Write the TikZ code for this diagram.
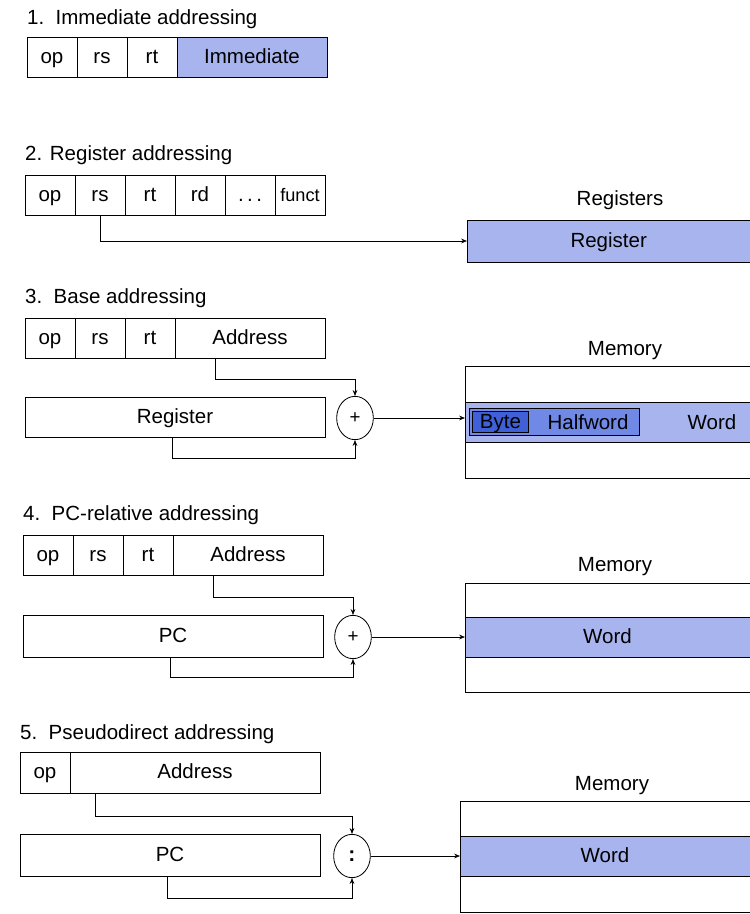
\documentclass[tikz,border=0pt]{standalone}
\usepackage{fontspec}
\setmainfont{Liberation Sans}
\usetikzlibrary{arrows.meta,positioning,shapes.geometric}
\definecolor{memblue}{RGB}{168,180,238}
\definecolor{halfblue}{RGB}{112,136,230}
\definecolor{byteblue}{RGB}{64,96,216}

\begin{document}
\begin{tikzpicture}[x=0.03cm, y=-0.03cm,
    fld/.style={draw, line width=0.8pt, outer sep=0pt, inner sep=0pt,
                minimum width=1.5cm, minimum height=1.2cm,
                text height=13.5pt, text depth=2.5pt,
                font=\fontsize{17.5}{20}\selectfont},
    ttl/.style={anchor=base west, inner sep=0pt,
                font=\fontsize{17.5}{20}\selectfont},
    lbl/.style={inner sep=0pt, text height=13.5pt, text depth=2.5pt,
                font=\fontsize{17.5}{20}\selectfont},
    band/.style={fill=memblue, outer sep=0pt, inner sep=0pt,
                 text height=13.5pt, text depth=2.5pt,
                 minimum width=8.55cm, minimum height=1.2cm, anchor=west},
    memframe/.style={outer sep=0pt, inner sep=0pt, anchor=north west,
                     minimum width=8.55cm},
    adder/.style={draw, ellipse, line width=0.7pt, inner sep=0pt,
                  minimum width=1.1cm, minimum height=1.3cm,
                  font=\fontsize{16}{20}\selectfont},
    arr/.style={-{Stealth[length=5pt,width=4pt]}, line width=0.6pt},
    edge/.style={line width=0.8pt}
  ]
  \useasboundingbox (0,0) rectangle (750,914);

  % 1. immediate
  \node[ttl] (t1) at (27,24) {1.\ \ Immediate addressing};
  \node[fld, anchor=north west] (op1) at (27,37) {op};
  \node[fld, right=0pt of op1] (rs1) {rs};
  \node[fld, right=0pt of rs1] (rt1) {rt};
  \node[fld, right=0pt of rt1, fill=memblue, minimum width=4.5cm] (im1) {Immediate};

  % 2. register
  \node[ttl] (t2) at (25,160) {2. Register addressing};
  \node[fld, anchor=north west] (op2) at (25,175) {op};
  \node[fld, right=0pt of op2] (rs2) {rs};
  \node[fld, right=0pt of rs2] (rt2) {rt};
  \node[fld, right=0pt of rt2] (rd2) {rd};
  \node[fld, right=0pt of rd2] (dt2) {.\,.\,.};
  \node[fld, right=0pt of dt2, font=\fontsize{15.5}{18}\selectfont] (fn2) {funct};
  \node[lbl] (rl2) at (620,199) {Registers};
  \node[band, anchor=north west, minimum width=8.5cm, minimum height=1.26cm,
        font=\fontsize{17.5}{20}\selectfont] (rg2) at (467,220) {Register};
  \draw[edge] (rg2.north east) -- (rg2.north west) -- (rg2.south west) -- (rg2.south east);
  \draw[arr] (rs2.south) |- (rg2.west);

  % 3. base
  \node[ttl] (t3) at (25,303) {3.\ \ Base addressing};
  \node[fld, anchor=north west] (op3) at (25,318) {op};
  \node[fld, right=0pt of op3] (rs3) {rs};
  \node[fld, right=0pt of rs3] (rt3) {rt};
  \node[fld, right=0pt of rt3, minimum width=4.5cm] (ad3) {Address};
  \node[fld, anchor=north west, minimum width=9cm] (rg3) at (25,397) {Register};
  \node[adder] (add3) at (355,418) {+};
  \node[lbl] (ml3) at (625,349) {Memory};
  \node[memframe, minimum height=3.36cm] (mem3) at (465,366) {};
  \node[band] (wd3) at (mem3.west) {};
  \draw[edge] (mem3.north east) -- (mem3.north west) -- (mem3.south west) -- (mem3.south east);
  \draw[edge] (wd3.north west) -- (wd3.north east) (wd3.south west) -- (wd3.south east);
  \node[draw, fill=halfblue, line width=0.8pt, minimum width=5.1cm, minimum height=0.8cm,
        inner sep=0pt, anchor=west] (hw3) at ([xshift=0.12cm]wd3.west) {};
  \node[draw, fill=byteblue, line width=0.8pt, minimum width=1.7cm, minimum height=0.62cm,
        anchor=west, lbl] (by3) at ([xshift=0.08cm]hw3.west) {Byte};
  \node[lbl] (hl3) at (588,423) {Halfword};
  \node[lbl] (wl3) at (712,423) {Word};
  \draw[arr] ([xshift=-1.05cm]ad3.south) -- ++(0,21) -| (add3.north);
  \draw[arr] ([xshift=-0.09cm]rg3.south) -- ++(0,21) -| (add3.south);
  \draw[arr] (add3.east) -- (add3.east -| wd3.west);

  % 4. pc-relative
  \node[ttl] (t4) at (23,520) {4.\ \ PC-relative addressing};
  \node[fld, anchor=north west] (op4) at (23,535) {op};
  \node[fld, right=0pt of op4] (rs4) {rs};
  \node[fld, right=0pt of rs4] (rt4) {rt};
  \node[fld, right=0pt of rt4, minimum width=4.5cm] (ad4) {Address};
  \node[fld, anchor=north west, minimum width=9cm, minimum height=1.26cm] (pc4) at (23,615) {PC};
  \node[adder] (add4) at (353,637) {+};
  \node[lbl] (ml4) at (615,565) {Memory};
  \node[memframe, minimum height=3.27cm] (mem4) at (465,583) {};
  \node[band, font=\fontsize{17.5}{20}\selectfont] (wd4) at (mem4.west) {Word};
  \draw[edge] (mem4.north east) -- (mem4.north west) -- (mem4.south west) -- (mem4.south east);
  \draw[edge] (wd4.north west) -- (wd4.north east) (wd4.south west) -- (wd4.south east);
  \draw[arr] ([xshift=-1.05cm]ad4.south) -- ++(0,22) -| (add4.north);
  \draw[arr] ([xshift=-0.09cm]pc4.south) -- ++(0,20) -| (add4.south);
  \draw[arr] (add4.east) -- (add4.east -| wd4.west);

  % 5. pseudodirect
  \node[ttl] (t5) at (20,739) {5.\ \ Pseudodirect addressing};
  \node[fld, anchor=north west, minimum height=1.23cm] (op5) at (20,752) {op};
  \node[fld, right=0pt of op5, minimum width=7.5cm, minimum height=1.23cm] (ad5) {Address};
  \node[fld, anchor=north west, minimum width=9cm, minimum height=1.26cm] (pc5) at (20,834) {PC};
  \node[adder, font=\bfseries\fontsize{18}{20}\selectfont] (add5) at (352,856) {:};
  \node[lbl] (ml5) at (612,784) {Memory};
  \node[memframe, minimum height=3.33cm, minimum width=8.7cm] (mem5) at (460,801) {};
  \node[band, minimum width=8.7cm, font=\fontsize{17.5}{20}\selectfont] (wd5) at (mem5.west) {Word};
  \draw[edge] (mem5.north east) -- (mem5.north west) -- (mem5.south west) -- (mem5.south east);
  \draw[edge] (wd5.north west) -- (wd5.north east) (wd5.south west) -- (wd5.south east);
  \draw[arr] ([xshift=-3cm]ad5.south) -- ++(0,23) -| (add5.north);
  \draw[arr] ([xshift=-0.09cm]pc5.south) -- ++(0,22) -| (add5.south);
  \draw[arr] (add5.east) -- (add5.east -| wd5.west);
\end{tikzpicture}
\end{document}
